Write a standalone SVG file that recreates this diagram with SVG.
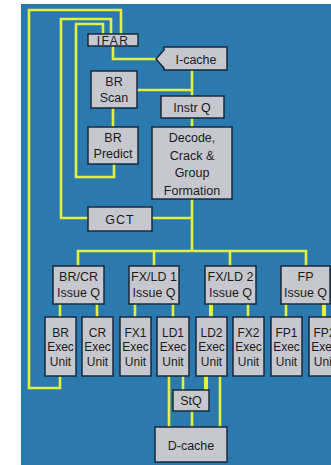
<svg xmlns="http://www.w3.org/2000/svg" width="331" height="465" viewBox="0 0 331 465">
<style>
.bx{fill:#c7c8cf;stroke:#1b2838;stroke-width:1.5}
.ln{fill:none;stroke:#e2f03e;stroke-width:2.6;stroke-linejoin:miter}
.lt{fill:none;stroke:#e2f03e;stroke-width:4}
text{font-family:"Liberation Sans",Arial,sans-serif;font-size:12.5px;fill:#1a1a1a;text-anchor:middle}
.sm{font-size:12px}
</style>
<rect x="0" y="0" width="331" height="465" fill="#ffffff"/>
<rect x="21" y="4" width="310" height="461" fill="#2a7ab0"/>
<g id="connectors">
<polyline class="ln" points="60,376 60,388 29,388 29,10 121,10 121,34"/>
<polyline class="ln" points="88,218 61,218 61,19 111,19 111,34"/>
<polyline class="ln" points="114,164 114,177 76,177 76,24 103,24 103,34"/>
<polyline class="ln" points="113,46 113,59 157,59"/>
<line class="ln" x1="192" y1="70" x2="192" y2="96"/>
<line class="ln" x1="137" y1="90" x2="192" y2="90"/>
<line class="ln" x1="113" y1="108" x2="113" y2="127"/>
<line class="ln" x1="192" y1="118" x2="192" y2="127"/>
<line class="ln" x1="192" y1="199" x2="192" y2="251"/>
<line class="ln" x1="152" y1="218" x2="192" y2="218"/>
<polyline class="ln" points="78,266 78,251 306,251 306,266"/>
<line class="ln" x1="154" y1="251" x2="154" y2="266"/>
<line class="ln" x1="230" y1="251" x2="230" y2="266"/>
<line class="ln" x1="60" y1="304" x2="60" y2="317"/>
<line class="ln" x1="97" y1="304" x2="97" y2="317"/>
<line class="ln" x1="135" y1="304" x2="135" y2="317"/>
<line class="ln" x1="173" y1="304" x2="173" y2="317"/>
<line class="lt" x1="211" y1="304" x2="211" y2="317"/>
<line class="ln" x1="248" y1="304" x2="248" y2="317"/>
<line class="ln" x1="286" y1="304" x2="286" y2="317"/>
<line class="lt" x1="324" y1="304" x2="324" y2="317"/>
<line class="ln" x1="169" y1="376" x2="169" y2="427"/>
<line class="ln" x1="183" y1="376" x2="183" y2="390"/>
<line class="lt" x1="206" y1="376" x2="206" y2="390"/>
<line class="ln" x1="220" y1="376" x2="220" y2="427"/>
<line class="ln" x1="192" y1="411" x2="192" y2="427"/>
</g>
<g id="ifar"><rect class="bx" x="88" y="34" width="50" height="12"/><text x="113" y="45" class="sm" style="letter-spacing:1.5px">IFAR</text></g>
<g id="icache"><polygon class="bx" points="164,47 227,47 227,70 164,70 164,68 156,59 164,50"/><text x="196" y="64">I-cache</text></g>
<g id="brscan"><rect class="bx" x="91" y="71" width="46" height="37"/><text x="114" y="86">BR</text><text x="114" y="102">Scan</text></g>
<g id="instrq"><rect class="bx" x="161" y="96" width="63" height="22"/><text x="192" y="112">Instr Q</text></g>
<g id="brpredict"><rect class="bx" x="88" y="127" width="50" height="37"/><text x="113" y="142">BR</text><text x="113" y="158">Predict</text></g>
<g id="decode"><rect class="bx" x="152" y="127" width="80" height="72"/><text x="192" y="142">Decode,</text><text x="192" y="160">Crack &amp;</text><text x="192" y="177">Group</text><text x="192" y="195">Formation</text></g>
<g id="gct"><rect class="bx" x="88" y="207" width="64" height="24"/><text x="120" y="224" style="letter-spacing:1px">GCT</text></g>
<g id="brcr-q"><rect class="bx" x="53" y="266" width="51" height="38"/><text x="78.5" y="281">BR/CR</text><text x="78.5" y="297">Issue Q</text></g>
<g id="fxld1-q"><rect class="bx" x="129" y="266" width="50" height="38"/><text x="154" y="281">FX/LD 1</text><text x="154" y="297">Issue Q</text></g>
<g id="fxld2-q"><rect class="bx" x="205" y="266" width="51" height="38"/><text x="230.5" y="281">FX/LD 2</text><text x="230.5" y="297">Issue Q</text></g>
<g id="fp-q"><rect class="bx" x="281" y="266" width="49" height="38"/><text x="305.5" y="281">FP</text><text x="305.5" y="297">Issue Q</text></g>
<g id="br-unit"><rect class="bx" x="45" y="317" width="31" height="59"/><text class="sm" x="60.5" y="337">BR</text><text class="sm" x="60.5" y="351">Exec</text><text class="sm" x="60.5" y="366">Unit</text></g>
<g id="cr-unit"><rect class="bx" x="82" y="317" width="31" height="59"/><text class="sm" x="97.5" y="337">CR</text><text class="sm" x="97.5" y="351">Exec</text><text class="sm" x="97.5" y="366">Unit</text></g>
<g id="fx1-unit"><rect class="bx" x="120" y="317" width="31" height="59"/><text class="sm" x="135.5" y="337">FX1</text><text class="sm" x="135.5" y="351">Exec</text><text class="sm" x="135.5" y="366">Unit</text></g>
<g id="ld1-unit"><rect class="bx" x="157" y="317" width="32" height="59"/><text class="sm" x="173" y="337">LD1</text><text class="sm" x="173" y="351">Exec</text><text class="sm" x="173" y="366">Unit</text></g>
<g id="ld2-unit"><rect class="bx" x="196" y="317" width="31" height="59"/><text class="sm" x="211.5" y="337">LD2</text><text class="sm" x="211.5" y="351">Exec</text><text class="sm" x="211.5" y="366">Unit</text></g>
<g id="fx2-unit"><rect class="bx" x="233" y="317" width="31" height="59"/><text class="sm" x="248.5" y="337">FX2</text><text class="sm" x="248.5" y="351">Exec</text><text class="sm" x="248.5" y="366">Unit</text></g>
<g id="fp1-unit"><rect class="bx" x="271" y="317" width="31" height="59"/><text class="sm" x="286.5" y="337">FP1</text><text class="sm" x="286.5" y="351">Exec</text><text class="sm" x="286.5" y="366">Unit</text></g>
<g id="fp2-unit"><rect class="bx" x="309" y="317" width="31" height="59"/><text class="sm" x="324.5" y="337">FP2</text><text class="sm" x="324.5" y="351">Exec</text><text class="sm" x="324.5" y="366">Unit</text></g>
<g id="stq"><rect class="bx" x="173" y="390" width="36" height="21"/><text x="191" y="405">StQ</text></g>
<g id="dcache"><rect class="bx" x="155" y="427" width="72" height="35"/><text x="191" y="450">D-cache</text></g>
</svg>
